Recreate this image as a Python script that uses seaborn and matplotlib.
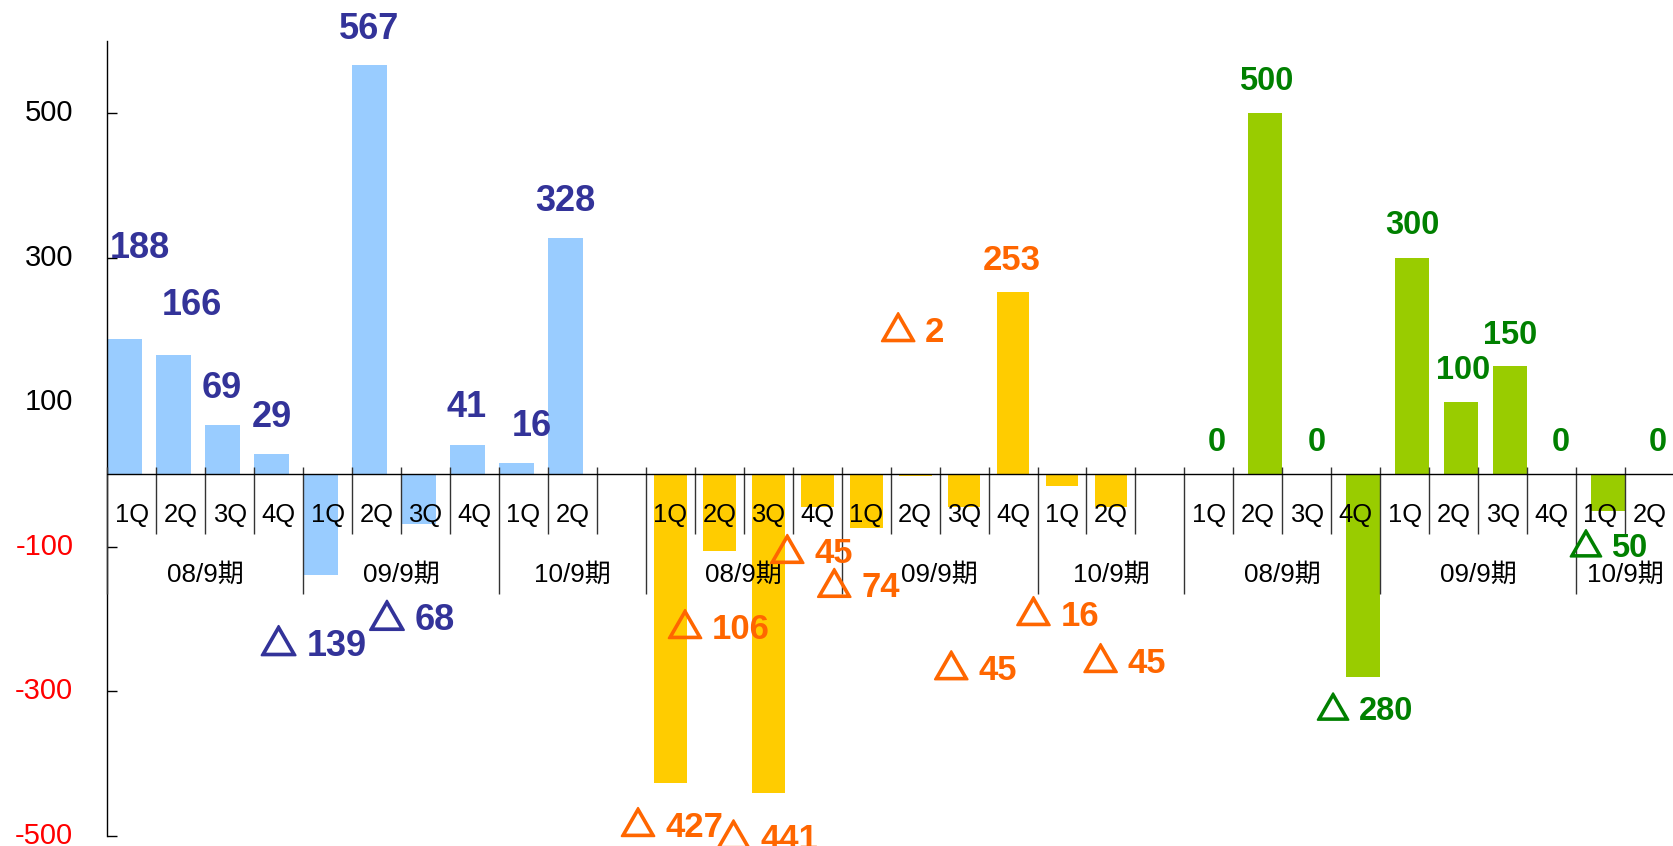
import matplotlib
matplotlib.use("Agg")
import matplotlib.pyplot as plt
from matplotlib import patheffects as pe
from matplotlib.transforms import ScaledTranslation
import pandas as pd
import seaborn as sns

# ---------------- data ----------------
quarter_labels = ["1Q", "2Q", "3Q", "4Q", "1Q", "2Q", "3Q", "4Q", "1Q", "2Q"]
year_labels = ["08/9期", "09/9期", "10/9期"]
year_slot_counts = [4, 4, 3]          # the last period keeps one spare slot

series_1 = [188, 166, 69, 29, -139, 567, -68, 41, 16, 328]
series_2 = [-427, -106, -441, -45, -74, -2, -45, 253, -16, -45]
series_3 = [0, 500, 0, -280, 300, 100, 150, 0, -50, 0]

y_ticks = [-500, -300, -100, 100, 300, 500]

# ---------------- layout / style ----------------
SLOTS_PER_GROUP = 11
X_MIN, X_MAX = -0.5, 31.5
Y_MIN, Y_MAX = -500, 600
NEG_MARK = "△"

# value-label placement (dx in slots, dy in value units) relative to each bar end
offsets_1 = [(0.32, 130), (0.38, 73), (-0.01, 55), (0.01, 54), (-0.14, -94),
             (-0.01, 54), (-0.13, -130), (-0.02, 57), (0.31, 55), (0.0, 55)]
offsets_2 = [(0.03, -57), (-0.01, -104), (-0.02, -60), (-0.12, -61), (-0.16, -79),
             (-0.05, 203), (0.23, -222), (-0.03, 47), (-0.09, -176), (0.28, -212)]
offsets_3 = [(0.02, 49), (0.03, 49), (0.06, 49), (0.04, -44), (0.02, 49),
             (0.04, 49), (0.0, 47), (0.04, 49), (0.02, -48), (0.02, 49)]

groups = [
    dict(values=series_1, bar="#99CCFF", text="#333399", shift=-0.145, width=0.71,
         size=26, offsets=offsets_1),
    dict(values=series_2, bar="#FFCC00", text="#FF6600", shift=0.0, width=0.67,
         size=25, offsets=offsets_2),
    dict(values=series_3, bar="#99CC00", text="#008000", shift=0.145, width=0.69,
         size=23.5, offsets=offsets_3),
]

sns.set_theme(style="white")
TEXT_FONT = ["Liberation Sans", "Noto Sans CJK JP"]
plt.rcParams["font.family"] = TEXT_FONT

fig = plt.figure(figsize=(16.74, 8.46), dpi=100)
ax = fig.add_axes([107.3 / 1674, 10.3 / 846, (1674 - 107.3) / 1674, 794.7 / 846])


def baseline_transform(size, dx_inch=0.0):
    # shift down so that the given y is the vertical centre of the digits
    return ax.transData + ScaledTranslation(dx_inch, -0.358 * size / 72,
                                            fig.dpi_scale_trans)


def put_text(x, y, s, size, color, weight="normal", z=6):
    return ax.text(x, y, s, transform=baseline_transform(size), ha="center",
                   va="baseline", fontsize=size, color=color, fontweight=weight,
                   family=TEXT_FONT, clip_on=False, zorder=z)


negative_labels = []
for g, grp in enumerate(groups):
    start = g * SLOTS_PER_GROUP
    df = pd.DataFrame({
        "pos": [start + i + grp["shift"] for i in range(len(grp["values"]))],
        "value": grp["values"],
    })
    sns.barplot(data=df, x="pos", y="value", native_scale=True, orient="x",
                color=grp["bar"], saturation=1, width=grp["width"],
                errorbar=None, linewidth=0, ax=ax, zorder=2)

    # value labels
    for (px, v), (dx, dy) in zip(zip(df["pos"], df["value"]), grp["offsets"]):
        txt = str(v) if v >= 0 else NEG_MARK + " " + str(abs(v))
        t = put_text(px + dx, v + dy, txt, grp["size"], grp["text"], weight="bold")
        if v < 0:
            negative_labels.append((t, px + dx, v + dy, abs(v), grp["size"],
                                    grp["text"]))

    # quarter labels
    for i, q in enumerate(quarter_labels):
        put_text(start + i, -53, q, 18.4, "black", z=5)

    # period labels and separators
    edge = start - 0.5
    for yl, n in zip(year_labels, year_slot_counts):
        lo, hi = max(edge, X_MIN), min(edge + n, X_MAX)
        put_text((lo + hi) / 2, -136, yl, 18.7, "black", z=5)
        for k in range(n):
            xs = edge + k
            if xs >= X_MAX:
                break
            bottom = -166 if k == 0 else -83
            ax.vlines(xs, bottom, 10, colors="#333333", lw=1.0, zorder=4,
                      clip_on=False)
        edge += n

ax.axhline(0, color="black", lw=1.0, zorder=4)

ax.set_xlim(X_MIN, X_MAX)
ax.set_ylim(Y_MIN, Y_MAX)
ax.set_xticks([])
ax.set_yticks(y_ticks)
ax.set_yticklabels([str(t) for t in y_ticks])
ax.tick_params(axis="y", direction="in", length=7.2, width=1.0, color="black",
               pad=24.5, labelsize=21, left=True)
for lab, t in zip(ax.get_yticklabels(), y_ticks):
    lab.set_color("#FF0000" if t < 0 else "black")
    lab.set_family(TEXT_FONT)
    lab.set_verticalalignment("center")
ax.set_xlabel("")
ax.set_ylabel("")
sns.despine(ax=ax, top=True, right=True, bottom=True)
ax.spines["left"].set_color("black")
ax.spines["left"].set_linewidth(1.0)
ax.patch.set_alpha(0)

# negative labels: split into a heavier outlined mark and the number, keeping
# the combined label's centred layout
fig.canvas.draw()
renderer = fig.canvas.get_renderer()
for t, x, y, magnitude, size, color in negative_labels:
    bb = t.get_window_extent(renderer)
    anchor_x = t.get_transform().transform((x, y))[0]
    left_shift = (bb.x0 - anchor_x) / fig.dpi
    right_shift = (bb.x1 - anchor_x) / fig.dpi
    t.set_text(str(magnitude))
    t.set_horizontalalignment("right")
    t.set_transform(baseline_transform(size, right_shift))
    ax.text(x, y, NEG_MARK, transform=baseline_transform(size, left_shift),
            ha="left", va="baseline", fontsize=size, color=color,
            fontweight="bold", family=TEXT_FONT, clip_on=False, zorder=7,
            path_effects=[pe.withStroke(linewidth=1.5, foreground=color)])

fig.savefig("out.png", dpi=100)
